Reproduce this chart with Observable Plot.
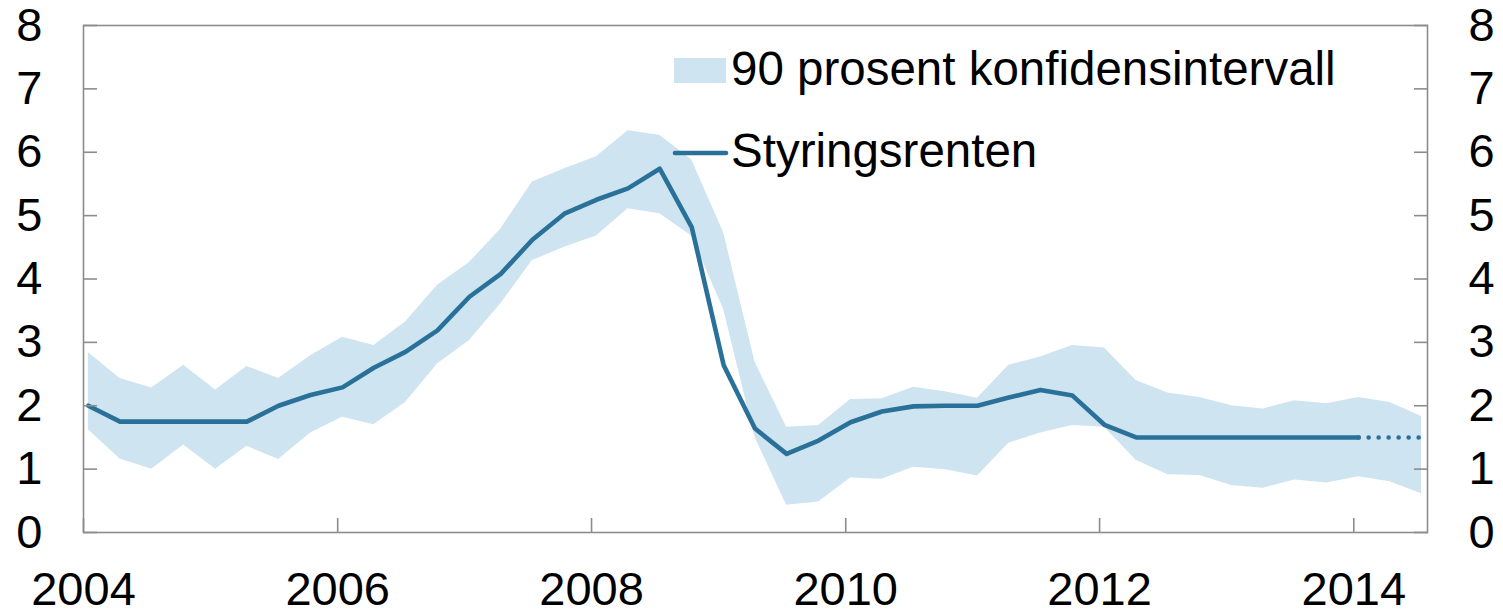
<!DOCTYPE html>
<html>
<head>
<meta charset="utf-8">
<script src="https://cdn.jsdelivr.net/npm/d3@7"></script>
<script src="https://cdn.jsdelivr.net/npm/@observablehq/plot@0.6"></script>
<style>
  html, body { margin: 0; padding: 0; background: #fff; }
  #wrap { position: relative; width: 1503px; height: 609px; }
  #legend { position: absolute; left: 0; top: 0; pointer-events: none; }
</style>
</head>
<body>
<div id="wrap"></div>
<script>
// Quarterly observations (mid-month of first month of each quarter)
const dates = [
  "2004-01-15","2004-04-15","2004-07-15","2004-10-15",
  "2005-01-15","2005-04-15","2005-07-15","2005-10-15",
  "2006-01-15","2006-04-15","2006-07-15","2006-10-15",
  "2007-01-15","2007-04-15","2007-07-15","2007-10-15",
  "2008-01-15","2008-04-15","2008-07-15","2008-10-15",
  "2009-01-15","2009-04-15","2009-07-15","2009-10-15",
  "2010-01-15","2010-04-15","2010-07-15","2010-10-15",
  "2011-01-15","2011-04-15","2011-07-15","2011-10-15",
  "2012-01-15","2012-04-15","2012-07-15","2012-10-15",
  "2013-01-15","2013-04-15","2013-07-15","2013-10-15",
  "2014-01-15","2014-04-15","2014-07-15"
];
// Styringsrenten (policy rate)
const rate = [
  2.0, 1.75, 1.75, 1.75, 1.75, 1.75, 2.0, 2.17,
  2.29, 2.6, 2.85, 3.19, 3.72, 4.08, 4.62, 5.03,
  5.25, 5.43, 5.74, 4.82, 2.64, 1.64, 1.24, 1.45,
  1.74, 1.91, 1.99, 2.0, 2.0, 2.13, 2.25, 2.16,
  1.7, 1.5, 1.5, 1.5, 1.5, 1.5, 1.5, 1.5,
  1.5, 1.5, 1.5
];
// 90 percent confidence interval
const upper = [
  2.84, 2.43, 2.28, 2.64, 2.25, 2.62, 2.43, 2.79,
  3.08, 2.95, 3.32, 3.9, 4.26, 4.79, 5.53, 5.74,
  5.93, 6.34, 6.27, 5.88, 4.73, 2.69, 1.66, 1.69,
  2.1, 2.11, 2.29, 2.22, 2.12, 2.64, 2.77, 2.95,
  2.91, 2.4, 2.2, 2.13, 2.0, 1.95, 2.08, 2.03,
  2.13, 2.05, 1.83
];
const lower = [
  1.62, 1.16, 1.0, 1.38, 1.0, 1.36, 1.15, 1.57,
  1.82, 1.7, 2.05, 2.66, 3.03, 3.61, 4.29, 4.5,
  4.68, 5.11, 5.03, 4.68, 3.52, 1.5, 0.43, 0.48,
  0.86, 0.84, 1.03, 0.99, 0.89, 1.41, 1.57, 1.69,
  1.66, 1.14, 0.91, 0.9, 0.74, 0.7, 0.83, 0.78,
  0.88, 0.8, 0.61
];
const lastObservedIndex = 40; // solid line up to here, dotted afterwards
const yTicks = [0, 1, 2, 3, 4, 5, 6, 7, 8];
const xTickYears = [2004, 2006, 2008, 2010, 2012, 2014];
const legendLabels = ["90 prosent konfidensintervall", "Styringsrenten"];

const lineColor = "#2a719a";
const bandColor = "#cfe4f1";
const axisColor = "#8c8c8c";

const parse = d3.utcParse("%Y-%m-%d");
const data = dates.map((d, i) => ({date: parse(d), rate: rate[i], lo: lower[i], hi: upper[i], i}));
const solid = data.filter(d => d.i <= lastObservedIndex);
const dotted = data.filter(d => d.i >= lastObservedIndex);
const xTicks = xTickYears.map(y => new Date(Date.UTC(y, 0, 1)));

const chart = Plot.plot({
  width: 1503,
  height: 609,
  marginLeft: 83,
  marginRight: 76,
  marginTop: 25,
  marginBottom: 77,
  style: {fontFamily: "'Liberation Sans', Arial, sans-serif", fontSize: "47px", color: "#000", background: "#fff"},
  x: {type: "utc", domain: [new Date(Date.UTC(2004, 0, 1)), new Date(Date.UTC(2014, 7, 1))]},
  y: {domain: [0, 8]},
  marks: [
    Plot.areaY(data, {x: "date", y1: "lo", y2: "hi", fill: bandColor, fillOpacity: 1}),
    Plot.line(solid, {x: "date", y: "rate", stroke: lineColor, strokeWidth: 4.6, strokeLinejoin: "round"}),
    Plot.line(dotted, {x: "date", y: "rate", stroke: lineColor, strokeWidth: 4.6, strokeLinecap: "round", strokeDasharray: "0,10"}),
    Plot.frame({stroke: axisColor, strokeWidth: 1.6}),
    // inward ticks
    Plot.axisY({anchor: "left", ticks: yTicks, tickSize: -14, stroke: axisColor, strokeWidth: 1.6, tickFormat: () => "", label: null}),
    Plot.axisY({anchor: "right", ticks: yTicks, tickSize: -14, stroke: axisColor, strokeWidth: 1.6, tickFormat: () => "", label: null}),
    Plot.axisX({anchor: "bottom", ticks: xTicks, tickSize: -14, stroke: axisColor, strokeWidth: 1.6, tickFormat: () => "", label: null}),
    // labels
    Plot.axisY({anchor: "left", ticks: yTicks, tickSize: 0, tickPadding: 41, tickFormat: d3.format("d"), label: null, fill: "#000"}),
    Plot.axisY({anchor: "right", ticks: yTicks, tickSize: 0, tickPadding: 41, tickFormat: d3.format("d"), label: null, fill: "#000"}),
    Plot.axisX({anchor: "bottom", ticks: xTicks, tickSize: 0, tickPadding: 39, tickFormat: d3.utcFormat("%Y"), label: null, fill: "#000"})
  ]
});

const wrap = document.getElementById("wrap");
wrap.appendChild(chart);

// Legend overlay inside the plot area
const ns = "http://www.w3.org/2000/svg";
const leg = document.createElementNS(ns, "svg");
leg.setAttribute("id", "legend");
leg.setAttribute("width", 1503);
leg.setAttribute("height", 609);
leg.innerHTML = `
  <rect x="674" y="58" width="52" height="25" fill="${bandColor}"></rect>
  <text x="731" y="85" font-family="'Liberation Sans', Arial, sans-serif" font-size="47.5" fill="#000">${legendLabels[0]}</text>
  <line x1="675" y1="153" x2="726" y2="153" stroke="${lineColor}" stroke-width="4.6" stroke-linecap="round"></line>
  <text x="731" y="167" font-family="'Liberation Sans', Arial, sans-serif" font-size="47.5" fill="#000">${legendLabels[1]}</text>
`;
wrap.appendChild(leg);
</script>
</body>
</html>
